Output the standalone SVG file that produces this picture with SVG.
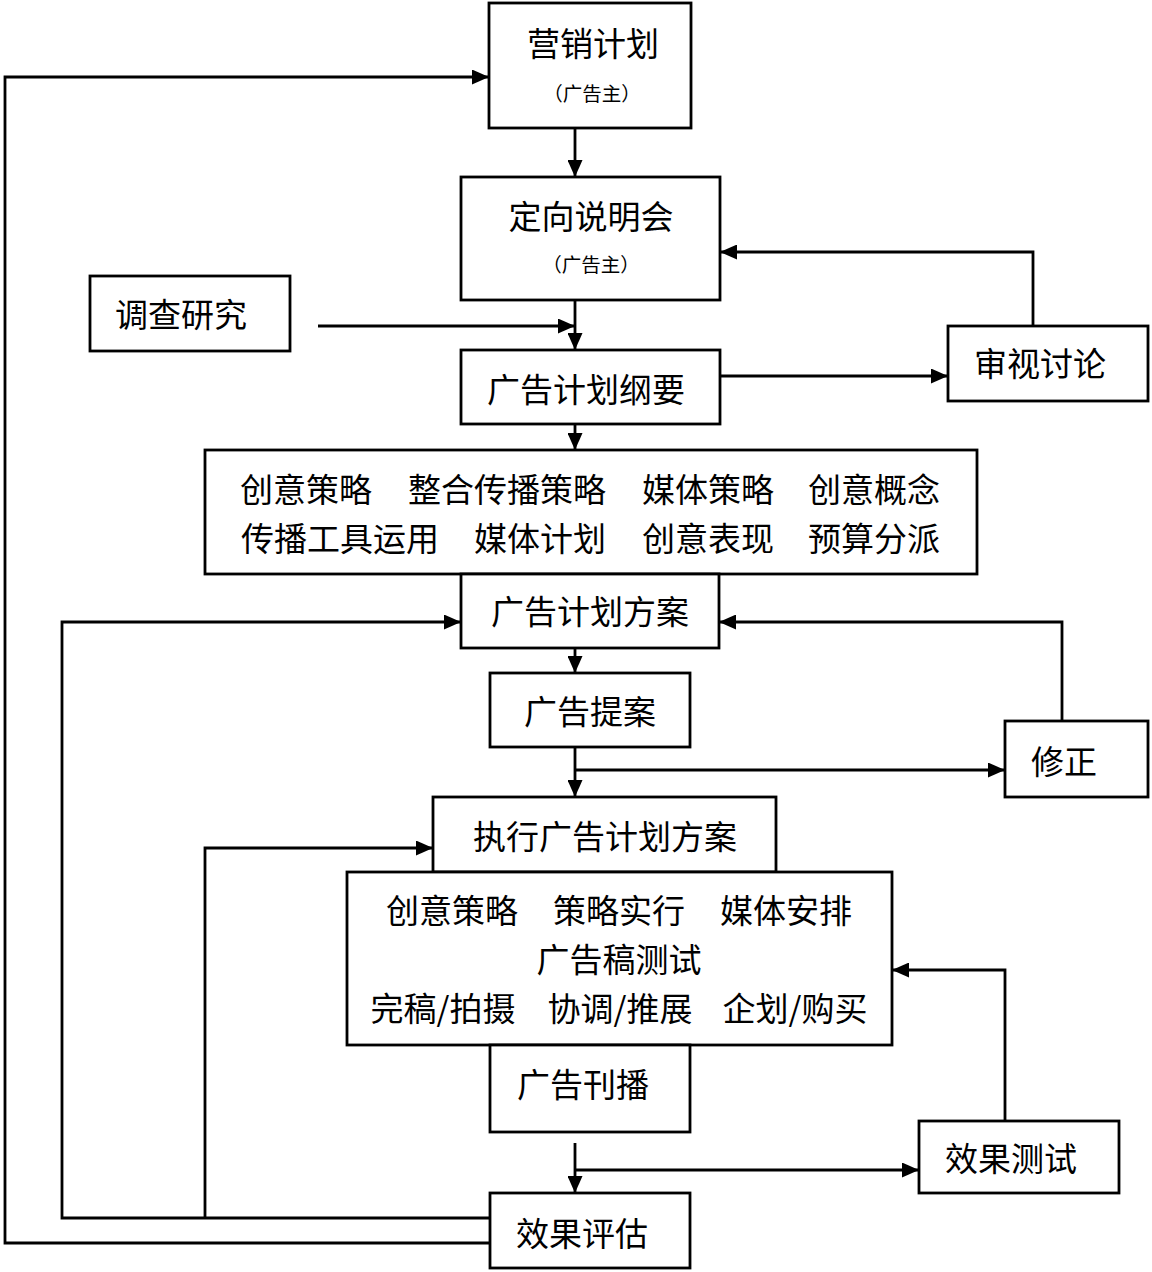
<svg xmlns="http://www.w3.org/2000/svg" width="1152" height="1272" viewBox="0 0 1152 1272">
<style>
.box{fill:#fff;stroke:#000;stroke-width:2.8}
.t{font-family:"Noto Sans CJK SC","Liberation Sans",sans-serif;font-size:33px;fill:#000;text-anchor:middle;dominant-baseline:central}
.s{font-size:19.5px}
.ln{fill:none;stroke:#000;stroke-width:2.8}
</style>
<defs>
<marker id="ah" viewBox="0 0 17 15" refX="17" refY="7.5" markerWidth="17" markerHeight="15" markerUnits="userSpaceOnUse" orient="auto">
<path d="M0,0 L17,7.5 L0,15 Z" fill="#000"/>
</marker>
</defs>
<rect width="1152" height="1272" fill="#fff"/>
<g id="connectors">
<path class="ln" d="M575,128 V177" marker-end="url(#ah)"/>
<path class="ln" d="M489,1243 H5 V77 H489" marker-end="url(#ah)"/>
<path class="ln" d="M1033,326 V252 H720" marker-end="url(#ah)"/>
<path class="ln" d="M318,326 H575" marker-end="url(#ah)"/>
<path class="ln" d="M575,300 V350" marker-end="url(#ah)"/>
<path class="ln" d="M720,376 H948" marker-end="url(#ah)"/>
<path class="ln" d="M575,424 V450" marker-end="url(#ah)"/>
<path class="ln" d="M490,1218 H62 V622 H461" marker-end="url(#ah)"/>
<path class="ln" d="M1062,721 V622 H719" marker-end="url(#ah)"/>
<path class="ln" d="M575,648 V673" marker-end="url(#ah)"/>
<path class="ln" d="M575,747 V797" marker-end="url(#ah)"/>
<path class="ln" d="M575,770 H1005" marker-end="url(#ah)"/>
<path class="ln" d="M205,1218 V848 H433" marker-end="url(#ah)"/>
<path class="ln" d="M1005,1121 V970 H892" marker-end="url(#ah)"/>
<path class="ln" d="M575,1143 V1193" marker-end="url(#ah)"/>
<path class="ln" d="M575,1170 H919" marker-end="url(#ah)"/>
</g>
<g id="n1"><rect class="box" x="489" y="3" width="202" height="125"/><text class="t" x="593" y="42">营销计划</text><text class="t s" x="592" y="92">（广告主）</text></g>
<g id="n2"><rect class="box" x="461" y="177" width="259" height="123"/><text class="t" x="591" y="215">定向说明会</text><text class="t s" x="591" y="263">（广告主）</text></g>
<g id="n3"><rect class="box" x="90" y="276" width="200" height="75"/><text class="t" x="181" y="313">调查研究</text></g>
<g id="n4"><rect class="box" x="461" y="350" width="259" height="74"/><text class="t" x="586" y="388">广告计划纲要</text></g>
<g id="n5"><rect class="box" x="948" y="326" width="200" height="75"/><text class="t" x="1040" y="362">审视讨论</text></g>
<g id="n6"><rect class="box" x="205" y="450" width="772" height="124"/>
<text class="t" x="306" y="488">创意策略</text><text class="t" x="507" y="488">整合传播策略</text><text class="t" x="708" y="488">媒体策略</text><text class="t" x="874" y="488">创意概念</text>
<text class="t" x="340" y="537">传播工具运用</text><text class="t" x="540" y="537">媒体计划</text><text class="t" x="708" y="537">创意表现</text><text class="t" x="874" y="537">预算分派</text></g>
<g id="n7"><rect class="box" x="461" y="574" width="258" height="74"/><text class="t" x="590" y="610">广告计划方案</text></g>
<g id="n8"><rect class="box" x="490" y="673" width="200" height="74"/><text class="t" x="590" y="710">广告提案</text></g>
<g id="n9"><rect class="box" x="1005" y="721" width="143" height="76"/><text class="t" x="1064" y="760">修正</text></g>
<g id="n10"><rect class="box" x="433" y="797" width="343" height="75"/><text class="t" x="605" y="835">执行广告计划方案</text></g>
<g id="n11"><rect class="box" x="347" y="872" width="545" height="173"/>
<text class="t" x="452" y="909">创意策略</text><text class="t" x="619" y="909">策略实行</text><text class="t" x="786" y="909">媒体安排</text>
<text class="t" x="619" y="958">广告稿测试</text>
<text class="t" x="443" y="1007">完稿/拍摄</text><text class="t" x="620" y="1007">协调/推展</text><text class="t" x="795" y="1007">企划/购买</text></g>
<g id="n12"><rect class="box" x="490" y="1045" width="200" height="87"/><text class="t" x="583" y="1083">广告刊播</text></g>
<g id="n13"><rect class="box" x="919" y="1121" width="200" height="72"/><text class="t" x="1011" y="1157">效果测试</text></g>
<g id="n14"><rect class="box" x="490" y="1193" width="200" height="75"/><text class="t" x="582" y="1232">效果评估</text></g>
</svg>
